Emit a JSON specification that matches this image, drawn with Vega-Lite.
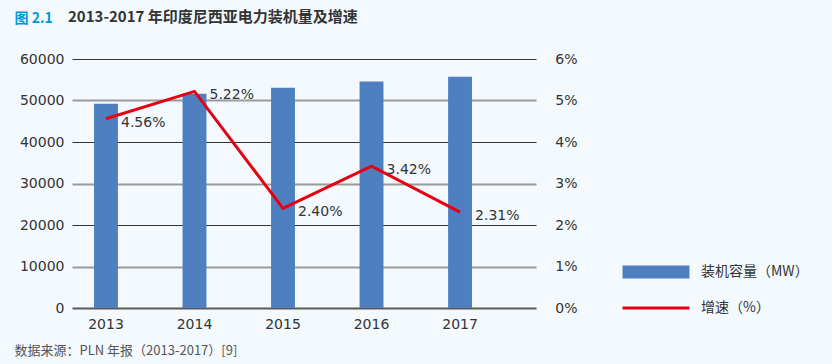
{
  "$schema": "https://vega.github.io/schema/vega-lite/v6.json",
  "autosize": {"type": "none"},
  "width": 464,
  "height": 249,
  "padding": {"left": 72, "top": 59, "right": 296, "bottom": 56},
  "background": "#f4f9fe",
  "title": {
    "text": "2013-2017 年印度尼西亚电力装机量及增速",
    "anchor": "start",
    "frame": "group",
    "dx": -4,
    "offset": 0,
    "dy": 14,
    "fontSize": 15,
    "fontWeight": "bold",
    "color": "#333333",
    "font": "Noto Sans CJK SC"
  },
  "config": {
    "view": {"stroke": null},
    "font": "DejaVu Sans",
    "axis": {"labelFont": "DejaVu Sans", "labelFontSize": 14, "labelColor": "#333333"}
  },
  "data": {
    "values": [
      {"year": "2013", "capacity": 49200, "growth": 0.0456},
      {"year": "2014", "capacity": 51650, "growth": 0.0522},
      {"year": "2015", "capacity": 53100, "growth": 0.0240},
      {"year": "2016", "capacity": 54550, "growth": 0.0342},
      {"year": "2017", "capacity": 55750, "growth": 0.0231}
    ]
  },
  "encoding": {
    "x": {
      "field": "year",
      "type": "nominal",
      "scale": {"paddingInner": 0.73, "paddingOuter": 0.486, "align": 0.256},
      "axis": {
        "labelAngle": 0,
        "domain": false,
        "ticks": false,
        "labelPadding": 9,
        "title": "数据来源：PLN 年报（2013-2017）[9]",
        "titleFont": "Noto Sans CJK SC",
        "titleFontSize": 13,
        "titleFontWeight": "normal",
        "titleColor": "#555555",
        "titleAlign": "left",
        "titleBaseline": "middle",
        "titleX": -58,
        "titleY": 42
      }
    }
  },
  "layer": [
    {
      "mark": {"type": "bar"},
      "encoding": {
        "y": {
          "field": "capacity",
          "type": "quantitative",
          "scale": {"domain": [0, 60000], "nice": false},
          "axis": {
            "values": [0, 10000, 20000, 30000, 40000, 50000, 60000],
            "format": "d",
            "grid": true,
            "gridColor": {"condition": [{"test": "datum.value === 0", "value": "#5a5a5a"}, {"test": "datum.value % 20000 === 0", "value": "#333333"}], "value": "#9a9a9a"},
            "gridWidth": {"condition": {"test": "datum.value % 20000 === 0 && datum.value !== 0", "value": 1}, "value": 2},
            "domain": false,
            "ticks": false,
            "labelPadding": 8,
            "title": "图 2.1",
            "titleFont": "Noto Sans CJK SC",
            "titleFontSize": 14,
            "titleFontWeight": "bold",
            "titleColor": "#0098db",
            "titleAngle": 0,
            "titleAlign": "left",
            "titleBaseline": "middle",
            "titleX": -58,
            "titleY": -41
          }
        },
        "color": {
          "datum": "装机容量（MW）",
          "type": "nominal",
          "scale": {"domain": ["装机容量（MW）", "增速（%）"], "range": ["#4e7fc1", "#e60012"]},
          "legend": {
            "orient": "none",
            "legendX": 577,
            "legendY": 206,
            "title": null,
            "padding": 0,
            "rowPadding": 22,
            "labelOffset": 38,
            "labelFont": "Noto Sans CJK SC",
            "labelFontSize": 14,
            "labelColor": "#333333",
            "symbolSize": 169,
            "encode": {
              "symbols": {
                "update": {
                  "shape": {"signal": "datum.value === '增速（%）' ? 'M-5.15,-0.23H5.15V0.23H-5.15Z' : 'M-5.15,-1H5.15V1H-5.15Z'"},
                  "fill": {"scale": "color", "field": "value"},
                  "strokeWidth": {"value": 0},
                  "opacity": {"value": 1},
                  "fillOpacity": {"value": 1}
                }
              }
            }
          }
        }
      }
    },
    {
      "encoding": {
        "y": {
          "field": "growth",
          "type": "quantitative",
          "scale": {"domain": [0, 0.06], "nice": false},
          "axis": {
            "orient": "right",
            "values": [0, 0.01, 0.02, 0.03, 0.04, 0.05, 0.06],
            "format": ".0%",
            "grid": false,
            "domain": false,
            "ticks": false,
            "labelAlign": "right",
            "labelPadding": 41,
            "title": null
          }
        }
      },
      "layer": [
        {
          "mark": {"type": "line", "strokeWidth": 3},
          "encoding": {"color": {"datum": "增速（%）", "type": "nominal"}}
        },
        {
          "mark": {"type": "text", "align": "left", "baseline": "middle", "dx": 15, "dy": 4, "fontSize": 14, "font": "DejaVu Sans", "color": "#333333"},
          "encoding": {"text": {"field": "growth", "type": "quantitative", "format": ".2%"}}
        }
      ]
    }
  ],
  "resolve": {"scale": {"y": "independent"}}
}
